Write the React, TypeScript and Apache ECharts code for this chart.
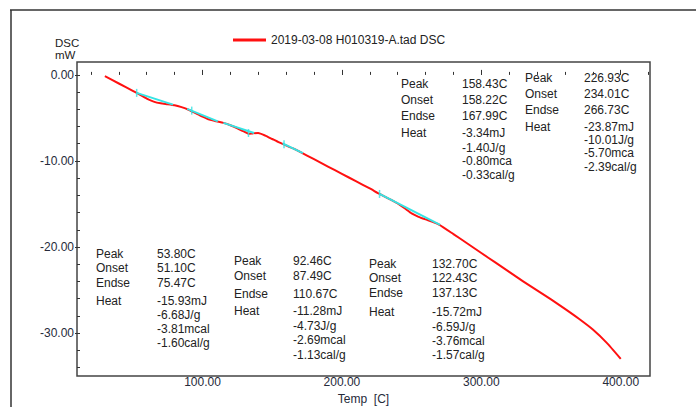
import React, { useEffect, useRef } from 'react';
import * as echarts from 'echarts';

// DSC trace: temperature (°C) and heat flow (mW)
const temps = [30, 40, 50, 55, 60, 65, 70, 75, 80, 85, 90, 95, 100, 105, 110, 115, 120, 125, 130, 133, 136, 140, 145, 150, 155, 160, 165, 170, 180, 190, 200, 210, 220, 227, 235, 240, 245, 250, 255, 260, 265, 270, 280, 290, 300, 310, 320, 330, 340, 350, 360, 370, 380, 390, 400];
const heatFlow = [-0.15, -1.0, -1.85, -2.3, -2.75, -3.1, -3.3, -3.4, -3.52, -3.75, -4.05, -4.45, -4.85, -5.2, -5.4, -5.58, -5.85, -6.2, -6.6, -6.85, -6.8, -6.75, -7.05, -7.45, -7.85, -8.2, -8.55, -8.95, -9.8, -10.65, -11.5, -12.35, -13.2, -13.84, -14.5, -14.95, -15.5, -16.1, -16.5, -16.8, -17.08, -17.42, -18.5, -19.6, -20.7, -21.8, -22.9, -24.0, -25.05, -26.1, -27.2, -28.35, -29.6, -31.15, -33.0];

// Integration baselines under each peak
const baseFromT = [52.8, 89, 115, 157.5, 227];
const baseFromY = [-2.09, -3.95, -5.58, -7.95, -13.84];
const baseToT = [78.9, 111, 137, 172, 270.5];
const baseToY = [-3.45, -5.4, -6.75, -9.1, -17.44];

// Cursor marks on the baselines
const markT = [52.8, 92.3, 133, 158.5, 227];
const markY = [-2.09, -4.15, -6.75, -8.05, -13.84];

// Peak analysis results
const rowNames = ['Peak', 'Onset', 'Endse', 'Heat'];
const peakT = ['53.80C', '92.46C', '132.70C', '158.43C', '226.93C'];
const onsetT = ['51.10C', '87.49C', '122.43C', '158.22C', '234.01C'];
const endsetT = ['75.47C', '110.67C', '137.13C', '167.99C', '266.73C'];
const heatMJ = ['-15.93mJ', '-11.28mJ', '-15.72mJ', '-3.34mJ', '-23.87mJ'];
const heatJg = ['-6.68J/g', '-4.73J/g', '-6.59J/g', '-1.40J/g', '-10.01J/g'];
const heatMcal = ['-3.81mcal', '-2.69mcal', '-3.76mcal', '-0.80mca', '-5.70mca'];
const heatCalg = ['-1.60cal/g', '-1.13cal/g', '-1.57cal/g', '-0.33cal/g', '-2.39cal/g'];

const xLabelTicks = [100, 200, 300, 400];
const xMinorTicks = [20, 40, 60, 80, 100, 120, 140, 160, 180, 200, 220, 240, 260, 280, 300, 320, 340, 360, 380, 400, 420];
const yLabelTicks = [0, -10, -20, -30];
const yMinorTicks = [0, -2, -4, -6, -8, -10, -12, -14, -16, -18, -20, -22, -24, -26, -28, -30, -32, -34];

const curveName = '2019-03-08 H010319-A.tad DSC';

// Placement of the result blocks (label column x, value column x, row centres)
const blockLayout = [
  { lx: 96, vx: 157, ys: [254, 268, 283, 301, 315, 329, 343] },
  { lx: 234, vx: 293, ys: [261, 276, 294, 311, 326, 340, 355] },
  { lx: 369, vx: 432, ys: [264, 278, 293, 312, 327, 341, 355] },
  { lx: 401, vx: 462, ys: [84, 100, 116, 133, 148, 161, 175] },
  { lx: 525, vx: 584, ys: [78, 94, 110, 127, 140, 153, 167] },
];

const FONT = '"Liberation Sans", Arial, sans-serif';
const TEXT = '#222';
const RED = '#ff1010';
const CYAN = '#35e4e4';

function txt(x: number, y: number, s: string, size = 12) {
  return {
    type: 'text',
    x,
    y,
    silent: true,
    style: {
      text: s,
      fill: TEXT,
      font: `${size}px ${FONT}`,
      textVerticalAlign: 'middle',
      textAlign: 'left',
    },
  };
}

function buildGraphics() {
  const g: any[] = [
    { type: 'line', shape: { x1: 10, y1: 10, x2: 696, y2: 10 }, style: { stroke: '#333', lineWidth: 1.5 } },
    { type: 'line', shape: { x1: 11, y1: 10, x2: 11, y2: 407 }, style: { stroke: '#333', lineWidth: 1.5 } },
    // y-axis title and unit
    txt(55, 42.5, 'DSC', 11.5),
    txt(55, 54.5, 'mW', 11.5),
  ];
  blockLayout.forEach((b, i) => {
    rowNames.forEach((n, r) => g.push(txt(b.lx, b.ys[r], n)));
    const vals = [peakT[i], onsetT[i], endsetT[i], heatMJ[i], heatJg[i], heatMcal[i], heatCalg[i]];
    vals.forEach((v, r) => g.push(txt(b.vx, b.ys[r], v)));
  });
  return g;
}

function buildOption(): any {
  const axisText = { color: '#262a3a', fontSize: 12, fontFamily: FONT };
  const baselineSeries = baseFromT.map((t, i) => ({
    type: 'line',
    name: 'baseline' + i,
    data: [
      [t, baseFromY[i]],
      [baseToT[i], baseToY[i]],
    ],
    showSymbol: false,
    lineStyle: { color: CYAN, width: 2 },
    z: 3,
    silent: true,
  }));
  return {
    animation: false,
    backgroundColor: '#fff',
    grid: {
      left: 77,
      top: 62,
      right: 46,
      bottom: 31,
      show: true,
      borderColor: '#444',
      borderWidth: 1.5,
      outerBoundsMode: 'none',
    },
    legend: {
      data: [{ name: curveName, icon: 'rect' }],
      left: 233,
      top: 34,
      padding: 0,
      itemWidth: 33,
      itemHeight: 3,
      itemGap: 5,
      textStyle: { color: TEXT, fontSize: 12, fontFamily: FONT },
    },
    xAxis: [
      {
        type: 'value',
        min: 10,
        max: 421,
        position: 'bottom',
        axisLine: { show: false },
        splitLine: { show: false },
        axisTick: { customValues: xLabelTicks, inside: true, length: 5, lineStyle: { color: '#333' } },
        axisLabel: { customValues: xLabelTicks, formatter: (v: number) => v.toFixed(2), margin: 0, ...axisText },
        name: 'Temp  [C]',
        nameLocation: 'middle',
        nameGap: 8,
        nameTextStyle: axisText,
      },
      {
        type: 'value',
        min: 10,
        max: 421,
        position: 'bottom',
        axisLine: { show: false },
        splitLine: { show: false },
        axisTick: { customValues: xMinorTicks, inside: true, length: 3, lineStyle: { color: '#333' } },
        axisLabel: { show: false },
      },
    ],
    yAxis: [
      {
        type: 'value',
        min: -35,
        max: 1.5,
        position: 'left',
        axisLine: { show: false },
        splitLine: { show: false },
        axisTick: { customValues: yLabelTicks, inside: false, length: 2, lineStyle: { color: '#333' } },
        axisLabel: { customValues: yLabelTicks, formatter: (v: number) => v.toFixed(2), margin: 3, ...axisText },
      },
      {
        type: 'value',
        min: -35,
        max: 1.5,
        position: 'left',
        axisLine: { show: false },
        splitLine: { show: false },
        axisTick: { customValues: yMinorTicks, inside: true, length: 3, lineStyle: { color: '#333' } },
        axisLabel: { show: false },
      },
    ],
    series: [
      {
        type: 'line',
        name: curveName,
        data: temps.map((t, i) => [t, heatFlow[i]]),
        showSymbol: false,
        smooth: 0.15,
        lineStyle: { color: RED, width: 2, join: 'round' },
        itemStyle: { color: RED },
        z: 2,
      },
      ...baselineSeries,
      {
        type: 'scatter',
        name: 'marks',
        data: markT.map((t, i) => [t, markY[i]]),
        symbol: 'rect',
        symbolSize: [1.5, 8],
        itemStyle: { color: CYAN },
        z: 4,
        silent: true,
      },
    ],
    graphic: buildGraphics(),
  };
}

export default function App() {
  const ref = useRef<HTMLDivElement>(null);
  useEffect(() => {
    const chart = echarts.init(ref.current!, null, { renderer: 'svg' });
    chart.setOption(buildOption());
    return () => chart.dispose();
  }, []);
  return (
    <div
      ref={ref}
      style={{ position: 'absolute', left: 0, top: 0, width: 696, height: 407, background: '#fff' }}
    />
  );
}
